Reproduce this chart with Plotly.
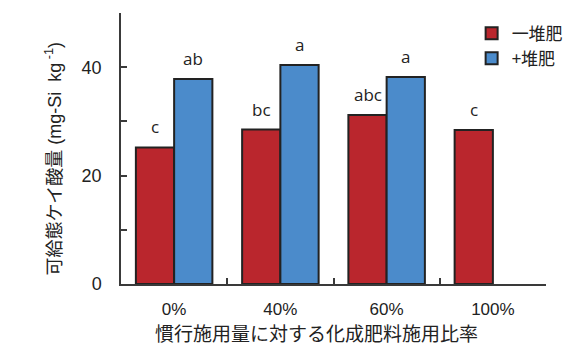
import plotly.graph_objects as go

# Fertilizer application ratio (relative to conventional rate)
categories = ["0%", "40%", "60%", "100%"]

# Available silicate (mg-Si kg-1)
no_compost = [25.2, 28.5, 31.2, 28.4]
with_compost = [37.8, 40.4, 38.2, None]

# Significance letters shown above the bars
letters_no_compost = ["c", "bc", "abc", "c"]
letters_with_compost = ["ab", "a", "a", ""]

series_names = ["一堆肥", "+堆肥"]

y_tick_vals = [0, 10, 20, 30, 40, 50]
y_tick_text = ["0", "", "20", "", "40", ""]

RED = "#BA262D"
BLUE = "#4B8BCB"
EDGE = "#222222"
AXIS = "#3a3a3a"
LATIN = "Liberation Sans, Arial, Noto Sans CJK JP"
CJK = "Noto Sans CJK JP, Liberation Sans"

fig = go.Figure()
fig.add_trace(go.Bar(
    x=categories, y=no_compost, name=series_names[0],
    marker=dict(color=RED, line=dict(color=EDGE, width=2)),
))
fig.add_trace(go.Bar(
    x=categories, y=with_compost, name=series_names[1],
    marker=dict(color=BLUE, line=dict(color=EDGE, width=2)),
))

# Letters above each bar (grouped bars sit half a bar-width either side of the category centre)
bar_half = 19
for cat, val, lab in zip(categories, no_compost, letters_no_compost):
    if lab and val is not None:
        fig.add_annotation(x=cat, y=val, text=lab, showarrow=False, xshift=-bar_half,
                           yanchor="bottom", yshift=7,
                           font=dict(family="Open Sans, Noto Sans", size=17, color="#222"))
for cat, val, lab in zip(categories, with_compost, letters_with_compost):
    if lab and val is not None:
        fig.add_annotation(x=cat, y=val, text=lab, showarrow=False, xshift=bar_half,
                           yanchor="bottom", yshift=7,
                           font=dict(family="Open Sans, Noto Sans", size=17, color="#222"))

# Axis titles
fig.add_annotation(xref="paper", yref="paper", x=-0.158, y=0.463,
                   xanchor="center", yanchor="middle",
                   text="可給態ケイ酸量 (mg-Si  kg<sup> -1</sup>)", textangle=-90,
                   showarrow=False, font=dict(family=LATIN, size=18, color="#222"))
fig.add_annotation(xref="paper", yref="paper", x=0.461, y=-0.18,
                   xanchor="center", yanchor="middle",
                   text="慣行施用量に対する化成肥料施用比率", showarrow=False,
                   font=dict(family=CJK, size=19, color="#222"))

fig.update_layout(
    width=563, height=352,
    margin=dict(l=121, r=17, t=13, b=68, autoexpand=False),
    paper_bgcolor="white", plot_bgcolor="white",
    barmode="group", bargap=0.28, bargroupgap=0,
    showlegend=True,
    legend=dict(x=0.825, y=0.99, xanchor="left", yanchor="top",
                font=dict(family=CJK, size=17, color="#222"),
                itemwidth=30, tracegroupgap=4, bgcolor="rgba(0,0,0,0)"),
    xaxis=dict(
        showline=True, linecolor=AXIS, linewidth=1.5, mirror=False,
        ticks="inside", tickson="boundaries", ticklen=6, tickcolor=AXIS, tickwidth=1.5,
        tickfont=dict(family=LATIN, size=17, color="#222"),
        ticklabelstandoff=9, showgrid=False, zeroline=False,
    ),
    yaxis=dict(
        range=[0, 50], showline=True, linecolor=AXIS, linewidth=1.5,
        tickvals=y_tick_vals, ticktext=y_tick_text,
        ticks="inside", ticklen=6, tickcolor=AXIS, tickwidth=1.5,
        tickfont=dict(family=LATIN, size=18, color="#222"),
        ticklabelstandoff=14, showgrid=False, zeroline=False,
    ),
)

fig.write_html("out.html")
